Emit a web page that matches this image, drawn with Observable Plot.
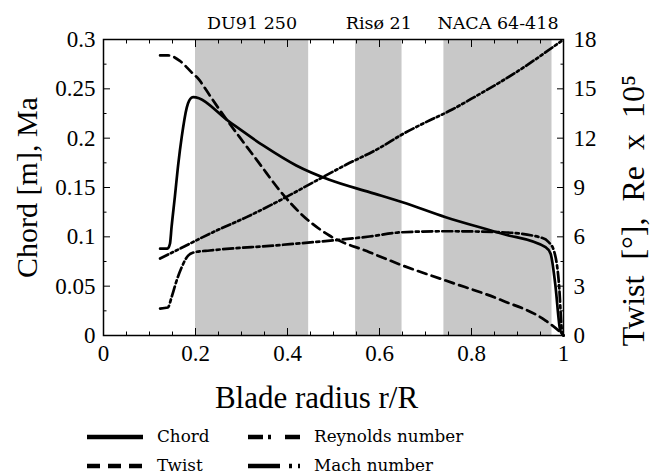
<!DOCTYPE html>
<html><head><meta charset="utf-8">
<script src="https://cdn.jsdelivr.net/npm/d3@7"></script>
<script src="https://cdn.jsdelivr.net/npm/@observablehq/plot@0.6"></script>
<style>
body{margin:0;background:#fff;}
#wrap{position:relative;width:654px;height:476px;overflow:hidden;background:#fff;}
#wrap svg.plot{position:absolute;left:0;top:0;}
g[aria-label$="axis label"] text{font-size:30px;}
.leg{position:absolute;font-family:"DejaVu Serif",serif;font-size:16.8px;color:#000;line-height:20px;white-space:nowrap;}
.legsvg{position:absolute;}
</style></head>
<body><div id="wrap"></div>
<script>
// Blade radius r/R vs chord [m]
const chord = [[0.123,0.088],[0.139,0.088],[0.1445,0.093],[0.148,0.110],[0.155,0.140],[0.1626,0.174],[0.170,0.201],[0.181,0.231],[0.1915,0.241],[0.195,0.2415],[0.2746,0.2162],[0.347,0.1926],[0.419,0.1723],[0.491,0.1578],[0.578,0.1453],[0.650,0.1351],[0.744,0.1199],[0.867,0.1031],[0.961,0.0895],[0.972,0.0828],[0.982,0.0524],[0.993,0.005],[1.0,0]];
// twist [deg] (right axis)
const twist = [[0.123,17.03],[0.141,17.03],[0.166,16.7],[0.1915,16.0],[0.2095,15.5],[0.2167,15.2],[0.253,13.7],[0.296,12.06],[0.3395,10.44],[0.383,8.82],[0.433,7.3],[0.491,6.08],[0.578,5.07],[0.650,4.26],[0.744,3.34],[0.867,2.13],[0.961,0.91],[0.993,0.2],[1.0,0]];
// Reynolds number x 1e5 (right axis)
const reynolds = [[0.123,1.64],[0.140,1.7],[0.148,2.33],[0.159,3.34],[0.170,4.15],[0.184,4.86],[0.199,5.07],[0.231,5.17],[0.383,5.5],[0.578,6.02],[0.650,6.28],[0.744,6.34],[0.867,6.28],[0.953,5.94],[0.968,5.67],[0.979,5.17],[0.990,3.2],[0.997,0.2],[1.0,0]];
// Mach number (left axis)
const mach = [[0.123,0.078],[0.166,0.088],[0.238,0.1047],[0.311,0.12],[0.383,0.1368],[0.455,0.155],[0.527,0.173],[0.600,0.19],[0.650,0.204],[0.700,0.216],[0.758,0.229],[0.800,0.240],[0.903,0.2686],[1.0,0.3]];

const bandStart = [0.2, 0.548, 0.74];
const bandEnd = [0.446, 0.649, 0.975];
const bandLabel = ["DU91 250", "Risø 21", "NACA 64-418"];

const xMajor = [0, 0.2, 0.4, 0.6, 0.8, 1];
const xMinor = [0.05,0.1,0.15,0.25,0.3,0.35,0.45,0.5,0.55,0.65,0.7,0.75,0.85,0.9,0.95];
const yMajor = [0, 0.05, 0.1, 0.15, 0.2, 0.25, 0.3];
const yMinor = [0.025,0.075,0.125,0.175,0.225,0.275];
const rightLabels = [0, 3, 6, 9, 12, 15, 18];

const xTitle = ["Blade radius r/R"];
const leftTitle = "Chord [m], Ma";
const rightTitle = ["Twist\u2002[°],\u2002Re\u2002x\u200210⁵"];
const legendLabels = ["Chord", "Twist", "Reynolds number", "Mach number"];

const RIGHT_FACTOR = 60; // 18 on right axis == 0.3 on left axis

const bands = bandStart.map((s, i) => ({start: s, end: bandEnd[i], label: bandLabel[i]}));
const toObj = (arr, f = 1) => arr.map(([r, v]) => ({r, v: v / f}));

const H = 412;
const fmt = d => String(+d.toFixed(3));
// inward ticks: draw outward ticks shifted inside the frame by their own length
const tickX = (anchor, ticks, size) => Plot.axisX({anchor, ticks, tickSize: size, fill: "none", label: null,
  dy: anchor === "bottom" ? -size : size});
const tickY = (anchor, ticks, size) => Plot.axisY({anchor, ticks, tickSize: size, fill: "none", label: null,
  dx: anchor === "left" ? size : -size});

const plot = Plot.plot({
  width: 654, height: H,
  marginLeft: 103, marginRight: 91, marginTop: 39, marginBottom: H - 335,
  x: {domain: [0, 1]},
  y: {domain: [0, 0.3]},
  style: {fontFamily: "'Liberation Serif', serif", color: "#000", background: "#fff", overflow: "visible"},
  marks: [
    Plot.rect(bands, {x1: "start", x2: "end", fill: "#c8c8c8"}),
    Plot.line(toObj(chord), {x: "r", y: "v", curve: "monotone-x", stroke: "#000", strokeWidth: 2.7}),
    Plot.line(toObj(twist, RIGHT_FACTOR), {x: "r", y: "v", curve: "monotone-x", stroke: "#000", strokeWidth: 2.7, strokeDasharray: "9,5.5"}),
    Plot.line(toObj(reynolds, RIGHT_FACTOR), {x: "r", y: "v", curve: "monotone-x", stroke: "#000", strokeWidth: 2.7, strokeDasharray: "10,3.5,3,3.5"}),
    Plot.line(toObj(mach), {x: "r", y: "v", curve: "monotone-x", stroke: "#000", strokeWidth: 2.7, strokeDasharray: "9,3,2.5,3,2.5,3"}),
    Plot.frame({stroke: "#000", strokeWidth: 1.5}),
    tickX("bottom", xMajor, 7),
    tickX("bottom", xMinor, 3.5),
    tickX("top", xMajor, 7),
    tickX("top", xMinor, 3.5),
    tickY("left", yMajor, 7),
    tickY("left", yMinor, 3.5),
    tickY("right", yMajor, 7),
    tickY("right", yMinor, 3.5),
    Plot.axisX({anchor: "bottom", ticks: xMajor, tickSize: 0, tickPadding: 9, tickFormat: fmt, fontSize: 23, label: null}),
    Plot.axisY({anchor: "left", ticks: yMajor, tickSize: 0, tickPadding: 8, tickFormat: fmt, fontSize: 23,
      label: leftTitle, labelAnchor: "center", labelOffset: 88, labelArrow: "none"}),
    Plot.axisY({anchor: "right", ticks: rightLabels.map(d => d / RIGHT_FACTOR), tickSize: 0, tickPadding: 10,
      tickFormat: d => String(Math.round(d * RIGHT_FACTOR)), fontSize: 23, label: null}),
    Plot.text(xTitle, {frameAnchor: "bottom", dy: 72, dx: -17, lineAnchor: "bottom", textAnchor: "middle", text: d => d,
      fontSize: 31, fill: "#000"}),
    Plot.text(rightTitle, {frameAnchor: "right", rotate: -90, dx: 80, dy: 23, lineAnchor: "bottom", textAnchor: "middle", text: d => d,
      fontSize: 32, fill: "#000"}),
    Plot.text(bands, {x: d => (d.start + d.end) / 2, frameAnchor: "top", dy: -11, lineAnchor: "bottom",
      text: "label", fontFamily: "'DejaVu Serif', serif", fontSize: 17.5, fill: "#000"})
  ]
});
plot.classList.add("plot");
const wrap = document.getElementById("wrap");
wrap.appendChild(plot);

// Legend (HTML below the chart)
const legendDash = [null, "13,8", "15,5,3,14", "32,9,3,6,3,6"];
const legendPos = [
  {lx: 87, lw: 56, tx: 157, cy: 437},
  {lx: 87, lw: 56, tx: 157, cy: 466},
  {lx: 248, lw: 52, tx: 314, cy: 437},
  {lx: 248, lw: 52, tx: 314, cy: 466}
];
legendLabels.forEach((lab, i) => {
  const p = legendPos[i];
  const s = d3.create("svg").attr("class", "legsvg").attr("width", p.lw).attr("height", 8)
    .style("left", p.lx + "px").style("top", (p.cy - 4) + "px");
  s.append("line").attr("x1", 0).attr("x2", p.lw).attr("y1", 4).attr("y2", 4)
    .attr("stroke", "#000").attr("stroke-width", 4.5).attr("stroke-dasharray", legendDash[i]);
  wrap.appendChild(s.node());
  const t = document.createElement("div");
  t.className = "leg";
  t.textContent = lab;
  t.style.left = p.tx + "px";
  t.style.top = (p.cy - 11) + "px";
  wrap.appendChild(t);
});
</script>
</body></html>
